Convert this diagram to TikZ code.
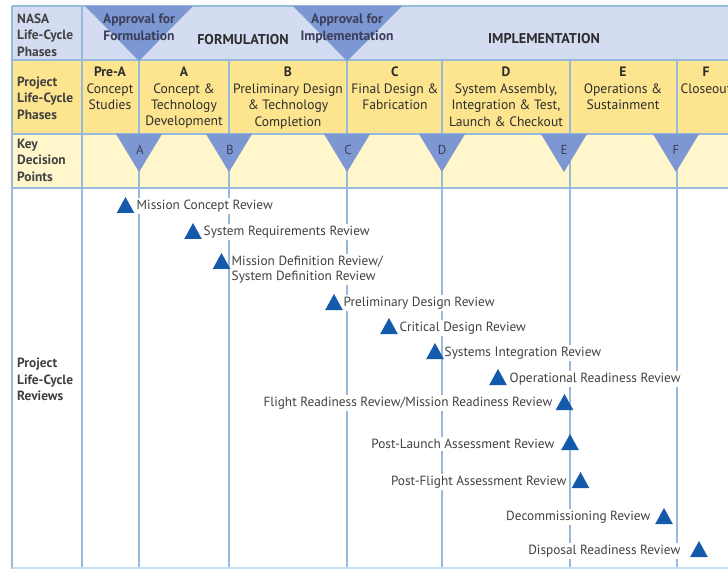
\documentclass[tikz,border=0pt]{standalone}
\usepackage{fontspec}
\setmainfont{PT Sans}
\definecolor{nasab}{RGB}{211,220,240}
\definecolor{tric}{RGB}{124,151,210}
\definecolor{yel}{RGB}{253,229,143}
\definecolor{lyel}{RGB}{255,246,204}
\definecolor{gridc}{RGB}{150,185,220}
\definecolor{revc}{RGB}{20,90,170}
\definecolor{labc}{RGB}{65,65,65}
\definecolor{txtc}{RGB}{45,45,45}
\definecolor{trit}{RGB}{60,62,90}
\begin{document}
\begin{tikzpicture}[x=1pt,y=-1pt,
  grid/.style={draw=gridc, line width=1.3pt},
  lefthead/.style={font=\bfseries\fontsize{13.4}{16.5}\selectfont, text=labc, align=left, anchor=north west, inner sep=0pt},
  phase/.style={font=\fontsize{13.6}{16.4}\selectfont, text=txtc, align=center, anchor=north, inner sep=0pt},
  apprv/.style={font=\bfseries\fontsize{13.6}{16.8}\selectfont, text=trit, align=center, anchor=north, inner sep=0pt},
  big/.style={font=\bfseries\fontsize{14.2}{15}\selectfont, text=txtc, inner sep=0pt},
  kdp/.style={font=\fontsize{13}{14}\selectfont, text=trit, inner sep=0pt},
  rev/.style={font=\fontsize{13.3}{15}\selectfont, text=labc, fill=white, inner sep=2pt, align=left},
  revtri/.style={fill=revc},
  ktri/.style={fill=tric}
]
\useasboundingbox (0,0) rectangle (728,569);
\clip (0,0) rectangle (728,569);
% backgrounds
\fill[white] (0,0) rectangle (728,569);
\fill[nasab] (12,6) rectangle (728,60);
\fill[yel] (12,60) rectangle (728,134);
\fill[lyel] (12,134) rectangle (728,188);
% grid
\draw[grid] (12,6) -- (728,6);
\draw[grid] (12,60) -- (728,60);
\draw[grid] (12,134) -- (728,134);
\draw[grid] (12,188) -- (728,188);
\draw[grid] (12,6) -- (12,569);
\draw[grid] (82,6) -- (82,569);
\foreach \x in {139,229,347,442,570,677} \draw[grid] (\x,60) -- (\x,569);
\draw[draw=gridc!50, line width=2pt] (12,568) -- (728,568);
% approval triangles
\fill[ktri] (85,6) -- (193,6) -- (139,61) -- cycle;
\fill[ktri] (293,6) -- (402,6) -- (347,61) -- cycle;
% KDP triangles
\foreach \x in {139,229,347,442,564,676} \fill[ktri] (\x-23,134) -- (\x+23,134) -- (\x,172) -- cycle;
% left column
\node[lefthead] (nasa) at (17,13.5) {NASA\\Life-Cycle\\Phases};
\node[lefthead] (plcp) at (17,76.5) {Project\\Life-Cycle\\Phases};
\node[lefthead] (kdp) at (17,138.5) {Key\\Decision\\Points};
\node[lefthead] (plcr) at (17,358) {Project\\Life-Cycle\\Reviews};
% top row
\node[apprv] (af) at (139,13.5) {Approval for\\Formulation};
\node[apprv] (ai) at (347,13.5) {Approval for\\Implementation};
\node[big] (form) at (243,40) {FORMULATION};
\node[big] (impl) at (544,39) {IMPLEMENTATION};
% phases
\node[phase] (pa) at (110,67) {\textbf{Pre-A}\\Concept\\Studies};
\node[phase] (pA) at (184,67) {\textbf{A}\\Concept \&\\Technology\\Development};
\node[phase] (pB) at (288,67) {\textbf{B}\\Preliminary Design\\\& Technology\\Completion};
\node[phase] (pC) at (395,67) {\textbf{C}\\Final Design \&\\Fabrication};
\node[phase] (pD) at (506,67) {\textbf{D}\\System Assembly,\\Integration \& Test,\\Launch \& Checkout};
\node[phase] (pE) at (623,67) {\textbf{E}\\Operations \&\\Sustainment};
\node[phase] (pF) at (706,67) {\textbf{F}\\Closeout};
% KDP labels
\node[kdp] (kA) at (140,150) {A};
\node[kdp] (kB) at (230,150) {B};
\node[kdp] (kC) at (348,150) {C};
\node[kdp] (kD) at (442,150) {D};
\node[kdp] (kE) at (564,150) {E};
\node[kdp] (kF) at (676,150) {F};
% reviews
\node[rev, anchor=west] (mcr) at (134.5,206) {Mission Concept Review};
\node[rev, anchor=west] (srr) at (201.5,232) {System Requirements Review};
\node[rev, anchor=west] (mdr) at (229.5,269.5) {Mission Definition Review/\\System Definition Review};
\node[rev, anchor=west] (pdr) at (341.5,303) {Preliminary Design Review};
\node[rev, anchor=west] (cdr) at (397.5,328) {Critical Design Review};
\node[rev, anchor=west] (sir) at (442.5,353) {Systems Integration Review};
\node[rev, anchor=west] (orr) at (507.5,379) {Operational Readiness Review};
\node[rev, anchor=east] (frr) at (554.5,403) {Flight Readiness Review/Mission Readiness Review};
\node[rev, anchor=east] (plar) at (556.5,444) {Post-Launch Assessment Review};
\node[rev, anchor=east] (pfar) at (568.5,482) {Post-Flight Assessment Review};
\node[rev, anchor=east] (dr) at (652.5,517) {Decommissioning Review};
\node[rev, anchor=east] (drr) at (682.5,551) {Disposal Readiness Review};
% review triangles
\foreach \cx/\by in {125.5/213,193/239,221.5/269,334/310,389/334,435/359,498/385,564.5/410,570/450,580.5/488,664/524,699/557}
  \fill[revtri] (\cx-8.8,\by) -- (\cx+8.8,\by) -- (\cx,\by-16) -- cycle;
\end{tikzpicture}
\end{document}
